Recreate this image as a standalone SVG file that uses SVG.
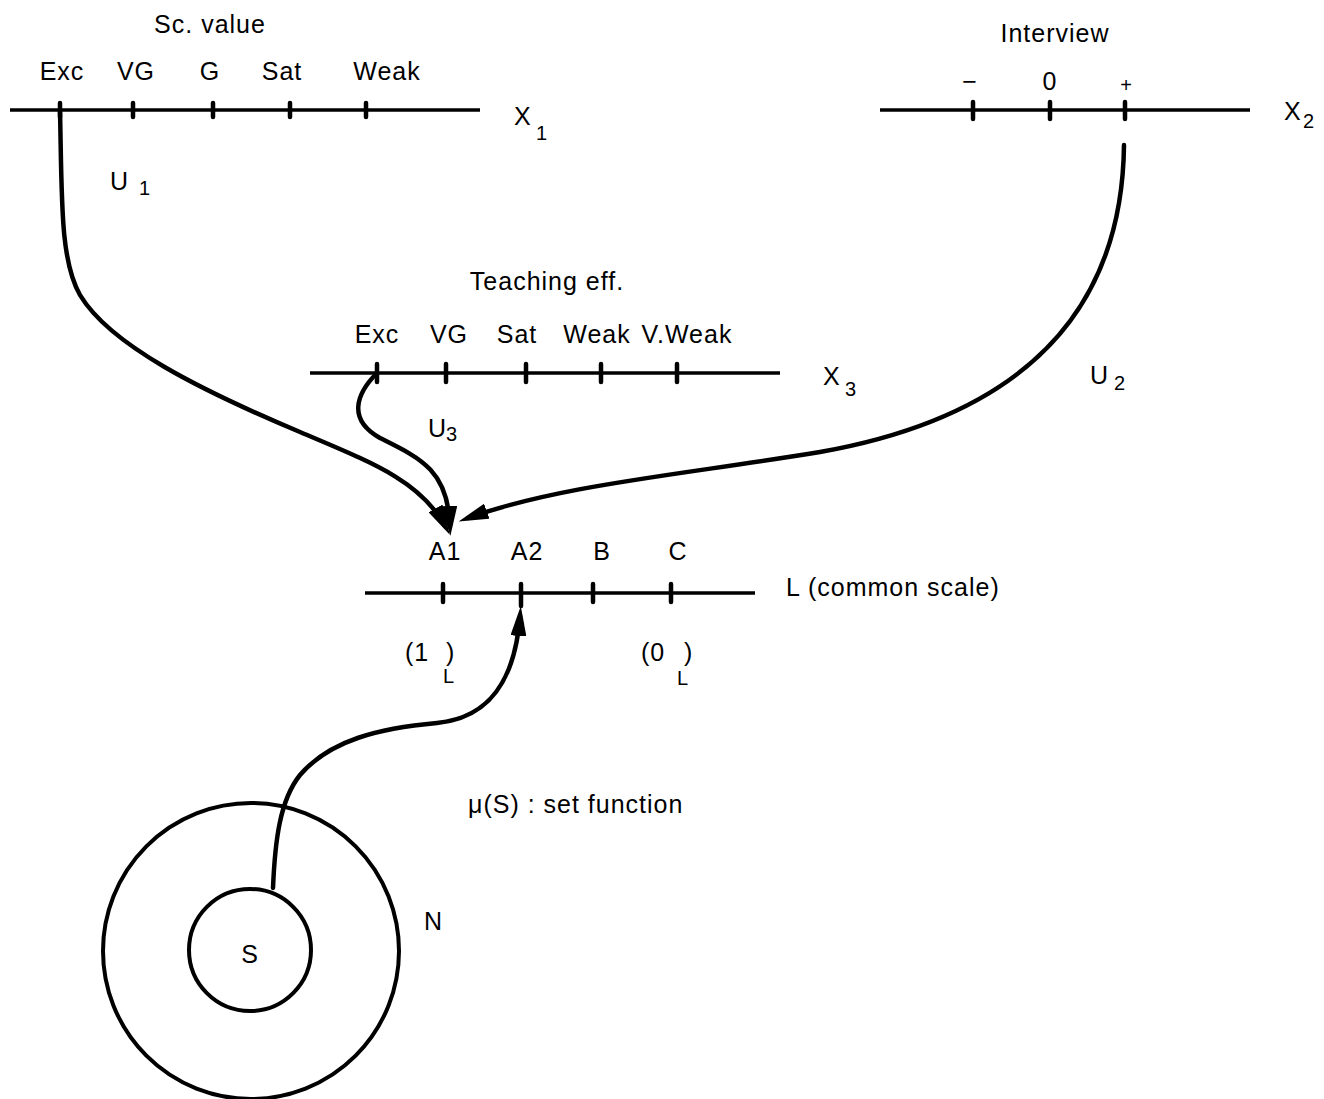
<svg xmlns="http://www.w3.org/2000/svg" width="1324" height="1099" viewBox="0 0 1324 1099">
<style>
  text { font-family: "Liberation Sans", Arial, sans-serif; fill: #000; font-size: 25px; letter-spacing: 1px; }
  .mid { text-anchor: middle; }
  .sub { font-size: 20px; letter-spacing: 0; }
  .axis { stroke: #000; stroke-width: 3.5; fill: none; }
  .tick { stroke: #000; stroke-width: 4.5; stroke-linecap: round; }
  .conn { stroke: #000; stroke-width: 4.5; fill: none; stroke-linecap: round; }
  .ring { stroke: #000; stroke-width: 4; fill: none; }
</style>
<defs>
  <marker id="head" markerUnits="userSpaceOnUse" markerWidth="30" markerHeight="16" viewBox="0 0 30 16" refX="20" refY="8" orient="auto">
    <path d="M0,0 L30,8 L0,16 Z" fill="#000"/>
  </marker>
</defs>
<rect width="1324" height="1099" fill="#fff"/>

<g id="scale-x1">
  <text class="mid" x="210" y="33">Sc. value</text>
  <line class="axis" x1="10" y1="110" x2="480" y2="110"/>
  <line class="tick" x1="60" y1="103" x2="60" y2="117"/>
  <line class="tick" x1="133" y1="103" x2="133" y2="117"/>
  <line class="tick" x1="213" y1="103" x2="213" y2="117"/>
  <line class="tick" x1="290" y1="103" x2="290" y2="117"/>
  <line class="tick" x1="366" y1="103" x2="366" y2="117"/>
  <text class="mid" x="62" y="80">Exc</text>
  <text class="mid" x="136" y="80">VG</text>
  <text class="mid" x="210" y="80">G</text>
  <text class="mid" x="282" y="80">Sat</text>
  <text class="mid" x="387" y="80">Weak</text>
  <text x="514" y="125">X</text>
  <text class="sub" x="536" y="140">1</text>
</g>

<g id="scale-x2">
  <text class="mid" x="1055" y="42">Interview</text>
  <line class="axis" x1="880" y1="110" x2="1250" y2="110"/>
  <line class="tick" x1="973" y1="102" x2="973" y2="119"/>
  <line class="tick" x1="1050" y1="102" x2="1050" y2="119"/>
  <line class="tick" x1="1125" y1="102" x2="1125" y2="119"/>
  <text class="mid" x="970" y="90">−</text>
  <text class="mid" x="1050" y="90">0</text>
  <text class="mid sub" x="1126" y="92">+</text>
  <text x="1284" y="120">X</text>
  <text class="sub" x="1303" y="128">2</text>
</g>

<g id="scale-x3">
  <text class="mid" x="547" y="290">Teaching eff.</text>
  <line class="axis" x1="310" y1="373" x2="780" y2="373"/>
  <line class="tick" x1="377" y1="364" x2="377" y2="382"/>
  <line class="tick" x1="446" y1="364" x2="446" y2="382"/>
  <line class="tick" x1="526" y1="364" x2="526" y2="382"/>
  <line class="tick" x1="601" y1="364" x2="601" y2="382"/>
  <line class="tick" x1="677" y1="364" x2="677" y2="382"/>
  <text class="mid" x="377" y="343">Exc</text>
  <text class="mid" x="449" y="343">VG</text>
  <text class="mid" x="517" y="343">Sat</text>
  <text class="mid" x="597" y="343">Weak</text>
  <text class="mid" x="687" y="343">V.Weak</text>
  <text x="823" y="385">X</text>
  <text class="sub" x="845" y="396">3</text>
</g>

<g id="scale-l">
  <line class="axis" x1="365" y1="593" x2="755" y2="593"/>
  <line class="tick" x1="443" y1="584" x2="443" y2="602"/>
  <line class="tick" x1="521" y1="584" x2="521" y2="606"/>
  <line class="tick" x1="593" y1="584" x2="593" y2="602"/>
  <line class="tick" x1="671" y1="584" x2="671" y2="602"/>
  <text class="mid" x="445" y="560">A1</text>
  <text class="mid" x="527" y="560">A2</text>
  <text class="mid" x="602" y="560">B</text>
  <text class="mid" x="678" y="560">C</text>
  <text x="786" y="596">L (common scale)</text>
  <text x="405" y="661">(1</text>
  <text x="446" y="661">)</text>
  <text class="sub" x="443" y="683">L</text>
  <text x="641" y="661">(0</text>
  <text x="684" y="661">)</text>
  <text class="sub" x="677" y="685">L</text>
</g>

<g id="set-n">
  <circle class="ring" cx="251" cy="951" r="148"/>
  <text x="424" y="930">N</text>
</g>
<g id="set-s">
  <circle class="ring" cx="250" cy="950" r="61"/>
  <text class="mid" x="250" y="963">S</text>
</g>

<g id="labels">
  <text x="110" y="190">U</text>
  <text class="sub" x="139" y="195">1</text>
  <text x="1090" y="384">U</text>
  <text class="sub" x="1114" y="390">2</text>
  <text x="428" y="437">U</text>
  <text class="sub" x="446" y="441">3</text>
  <text x="468" y="813">μ(S) : set function</text>
</g>

<g id="connectors">
  <path class="conn" marker-end="url(#head)" d="M60,110 C62,200 60,260 80,295 C110,345 200,390 300,432 C370,462 420,480 445,526"/>
  <path class="conn" marker-end="url(#head)" d="M377,373 C355,395 348,420 380,438 C420,458 448,470 450,526"/>
  <path class="conn" marker-end="url(#head)" d="M1124,145 C1122,330 1000,420 820,452 C680,475 560,485 468,518"/>
  <path class="conn" marker-end="url(#head)" d="M273,888 C275,840 280,800 300,775 C330,740 380,728 437,723 C490,718 515,680 520,616"/>
</g>
</svg>
